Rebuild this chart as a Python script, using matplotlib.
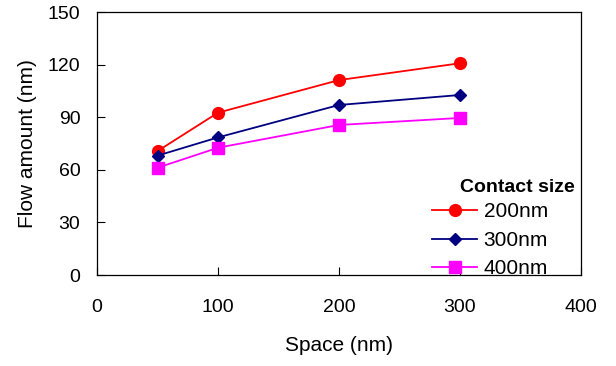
import matplotlib
matplotlib.use("Agg")
import matplotlib.pyplot as plt

plt.rcParams['font.family'] = ['Liberation Sans', 'DejaVu Sans']

space = [50, 100, 200, 300]
s200 = [70.7, 92.6, 111.2, 120.8]
s300 = [68.1, 78.5, 97.0, 102.7]
s400 = [61.2, 72.6, 85.6, 89.6]
labels = ['200nm', '300nm', '400nm']
legend_title = 'Contact size'

fig = plt.figure(figsize=(6.16, 3.66), dpi=100)
ax = fig.add_axes([0.1575, 0.2486, 0.7855, 0.7184])
ax.plot(space, s200, color='#ff0000', marker='o', markersize=8.5, lw=1.3, label=labels[0])
ax.plot(space, s300, color='#000080', marker='D', markersize=6.5, lw=1.3, label=labels[1])
ax.plot(space, s400, color='#ff00ff', marker='s', markersize=8.5, lw=1.3, label=labels[2])
ax.set_xlim(0, 400)
ax.set_ylim(0, 150)
ax.set_xticks([0, 100, 200, 300, 400])
ax.set_yticks([0, 30, 60, 90, 120, 150])
ax.tick_params(direction='in', labelsize=14, length=6)
ax.tick_params(axis='y', pad=12)
ax.tick_params(axis='x', pad=17)
ax.set_xlabel('Space (nm)', fontsize=15, labelpad=15)
ax.set_ylabel('Flow amount (nm)', fontsize=15, labelpad=8)
for s in ax.spines.values():
    s.set_linewidth(0.9)
leg = ax.legend(frameon=False, fontsize=15,
                loc='lower left', bbox_to_anchor=(0.677, 0.2),
                bbox_transform=fig.transFigure, handlelength=2.2,
                labelspacing=0.45, borderpad=0.2, handletextpad=0.3)
fig.text(0.933, 0.489, legend_title, ha='right', va='center',
         fontsize=14, fontweight='bold')
fig.savefig('out.png', dpi=100)
